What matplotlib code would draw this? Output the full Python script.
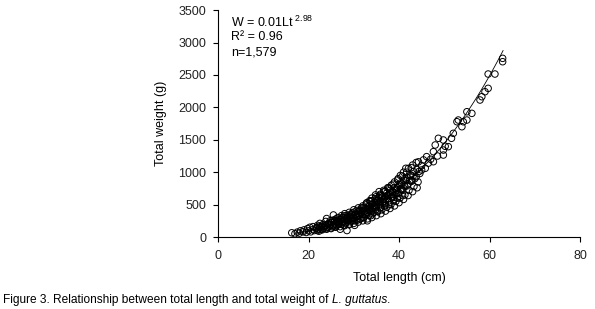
import numpy as np
import matplotlib.pyplot as plt

plt.rcParams['font.family'] = ['Liberation Sans', 'DejaVu Sans']
plt.rcParams['mathtext.fontset'] = 'custom'
plt.rcParams['mathtext.rm'] = 'Liberation Sans'

# total length (cm) and total weight (g)
length_cm = [
    16.3, 17.0, 17.5, 18.0, 18.2, 18.8, 19.0, 19.5, 19.8, 20.0, 20.3, 20.5,
    21.0, 21.0, 21.3, 21.8, 22.0, 22.3, 22.5, 22.8, 23.0, 23.2, 23.5, 23.8,
    24.0, 24.0, 24.3, 24.6, 24.8, 25.0, 25.2, 25.5, 25.5, 25.8, 26.0, 26.2,
    26.5, 26.7, 27.0, 27.0, 27.3, 27.5, 27.8, 28.0, 28.0, 28.3, 28.5, 28.6,
    28.8, 29.0, 29.0, 29.3, 29.5, 29.7, 30.0, 30.0, 30.2, 30.4, 30.6, 30.8,
    31.0, 31.0, 31.2, 31.5, 31.7, 32.0, 32.0, 32.2, 32.5, 32.6, 32.8, 33.0,
    33.0, 33.2, 33.5, 33.5, 33.8, 34.0, 34.0, 34.2, 34.4, 34.6, 34.8, 35.0,
    35.0, 35.2, 35.5, 35.6, 35.8, 36.0, 36.0, 36.3, 36.5, 36.6, 36.8, 37.0,
    37.0, 37.3, 37.5, 37.6, 37.8, 38.0, 38.0, 38.3, 38.5, 38.6, 38.8, 39.0,
    39.0, 39.3, 39.5, 39.6, 39.8, 40.0, 40.0, 40.3, 40.5, 40.6, 40.8, 41.0,
    41.0, 41.3, 41.5, 41.8, 42.0, 42.1, 42.5, 42.8, 43.0, 43.2, 43.5, 43.8,
    44.0, 44.3, 44.6, 45.0, 45.0, 45.4, 45.8, 46.1, 46.5, 47.0, 47.6, 47.6,
    48.0, 48.5, 48.7, 49.8, 49.8, 49.8, 50.2, 50.9, 51.6, 52.0, 52.8, 53.1,
    53.9, 54.2, 55.0, 55.0, 56.1, 57.9, 58.3, 59.0, 59.7, 59.7, 61.2, 62.9,
    62.9,
]
weight_g = [
    65, 50, 75, 60, 95, 80, 110, 70, 130, 95, 150, 80,
    160, 115, 100, 135, 180, 90, 210, 150, 120, 190, 165, 240,
    130, 285, 200, 170, 250, 140, 220, 340, 190, 260, 160, 230,
    300, 200, 270, 120, 330, 240, 180, 290, 360, 220, 100, 310,
    260, 380, 200, 300, 340, 250, 420, 290, 180, 350, 310, 260,
    390, 450, 330, 280, 370, 480, 410, 300, 350, 440, 520, 380,
    250, 460, 560, 410, 330, 500, 600, 440, 380, 530, 650, 470,
    560, 400, 610, 700, 500, 540, 450, 640, 580, 720, 480, 620,
    540, 680, 760, 590, 500, 650, 720, 800, 610, 700, 560, 760,
    850, 660, 720, 600, 900, 780, 680, 950, 840, 740, 640, 1000,
    880, 780, 1060, 920, 820, 1060, 960, 880, 1110, 1010, 900, 1150,
    1040, 1160, 980, 1034, 1100, 1190, 1060, 1240, 1140, 1200, 1317, 1162,
    1420, 1250, 1523, 1497, 1342, 1265, 1400, 1394, 1523, 1600, 1779, 1805,
    1702, 1779, 1933, 1805, 1908, 2114, 2165, 2242, 2294, 2515, 2515, 2757,
    2705,
]

# the dense band of overlapping fish between 22 and 44 cm
band_length = [
    22.0, 22.2, 21.8, 22.4,
    23.0, 23.3, 22.8, 23.1,
    24.0, 24.2, 23.8, 24.4,
    25.0, 25.3, 24.8, 25.1, 25.4,
    26.0, 26.2, 25.8, 26.4, 26.1,
    27.0, 27.3, 26.8, 27.1, 27.4,
    28.0, 28.2, 27.8, 28.4, 28.1,
    29.0, 29.3, 28.8, 29.1, 29.4,
    30.0, 30.2, 29.8, 30.4, 30.1,
    31.0, 31.3, 30.8, 31.1, 31.4,
    32.0, 32.2, 31.8, 32.4, 32.1,
    33.0, 33.3, 32.8, 33.1, 33.4, 32.9,
    34.0, 34.2, 33.8, 34.4, 34.1, 33.9,
    35.0, 35.3, 34.8, 35.1, 35.4, 34.9,
    36.0, 36.2, 35.8, 36.4, 36.1, 35.9,
    37.0, 37.3, 36.8, 37.1, 37.4, 36.9,
    38.0, 38.2, 37.8, 38.4, 38.1, 37.9,
    39.0, 39.3, 38.8, 39.1, 39.4,
    40.0, 40.2, 39.8, 40.4, 40.1,
    41.0, 41.3, 40.8, 41.1, 41.4,
    42.0, 42.2, 41.8, 42.4,
    43.0, 43.3, 42.8, 43.1,
    44.0, 44.2, 43.8, 44.4,
    # second pass through the thickest part
    25.6, 26.6, 27.6, 28.6, 29.6, 30.6, 31.6, 32.6, 33.6, 34.6, 35.6,
    36.6, 37.6, 38.6, 39.6, 40.6, 41.6, 42.6,
    25.7, 26.7, 27.7, 28.7, 29.7, 30.7, 31.7, 32.7, 33.7, 34.7, 35.7,
    36.7, 37.7, 38.7, 39.7, 40.7, 41.7, 42.7,
]
band_weight = [
    100, 120, 145, 165,
    110, 135, 160, 185,
    120, 150, 175, 205,
    130, 160, 190, 225, 260,
    150, 175, 205, 240, 280,
    160, 195, 230, 265, 300,
    175, 215, 250, 290, 330,
    190, 235, 275, 315, 355,
    210, 250, 295, 340, 385,
    230, 275, 320, 365, 410,
    250, 300, 350, 400, 450,
    280, 330, 380, 430, 480, 530,
    300, 360, 410, 460, 510, 560,
    330, 390, 450, 500, 560, 620,
    360, 420, 480, 540, 600, 660,
    400, 460, 520, 580, 640, 700,
    440, 500, 560, 620, 690, 750,
    480, 550, 610, 680, 740,
    530, 600, 670, 740, 810,
    580, 650, 720, 800, 870,
    640, 720, 790, 870,
    700, 780, 860, 940,
    760, 850, 930, 1010,
    170, 195, 225, 255, 290, 325, 360, 400, 445, 490, 540,
    590, 640, 700, 760, 820, 880, 950,
    240, 265, 300, 335, 370, 410, 450, 495, 545, 590, 640,
    700, 760, 815, 880, 940, 1000, 1070,
]

# fitted curve W = a * L^b
fit_a = 0.0125
fit_b = 2.98
fit_range = [17, 63]

fig = plt.figure(figsize=(5.95, 3.09), dpi=100)
ax = fig.add_axes([0.3664, 0.233, 0.6084, 0.734])

ax.scatter(length_cm + band_length, weight_g + band_weight, s=22,
           facecolors='none', edgecolors='black', linewidths=0.7, zorder=2)
lx = np.linspace(fit_range[0], fit_range[1], 100)
ax.plot(lx, fit_a * lx ** fit_b, color='black', lw=0.6, zorder=3)

ax.set_xlim(0, 80)
ax.set_ylim(0, 3500)
ax.set_xticks([0, 20, 40, 60, 80])
ax.set_yticks(np.arange(0, 3501, 500))
ax.spines['top'].set_visible(False)
ax.spines['right'].set_visible(False)
for sp in ('left', 'bottom'):
    ax.spines[sp].set_linewidth(0.8)
ax.tick_params(direction='out', length=3.5, width=0.8, labelsize=9,
               colors='black', labelcolor='#222222')
ax.tick_params(axis='x', pad=6)
ax.tick_params(axis='y', pad=5)
ax.set_xlabel('Total length (cm)', fontsize=9, labelpad=7)
ax.set_ylabel('Total weight (g)', fontsize=9, labelpad=8)

ax.text(0.035, 0.945, r'W = 0.01Lt$^{\mathregular{\ 2.98}}$', transform=ax.transAxes,
        fontsize=9, va='center')
ax.text(0.035, 0.88, 'R² = 0.96', transform=ax.transAxes, fontsize=9, va='center')
ax.text(0.035, 0.815, 'n=1,579', transform=ax.transAxes, fontsize=9, va='center')

# caption: plain part, italic species name, closing period
r = fig.canvas.get_renderer()
cap_y = 0.03
x0 = 0.005
for part, st in [('Figure 3. Relationship between total length and total weight of ', 'normal'),
                 ('L. guttatus', 'italic'), ('.', 'normal')]:
    t = fig.text(x0, cap_y, part, fontsize=8.6, style=st, va='center')
    x0 = t.get_window_extent(renderer=r).x1 / fig.bbox.width

fig.savefig('out.png', dpi=100)
